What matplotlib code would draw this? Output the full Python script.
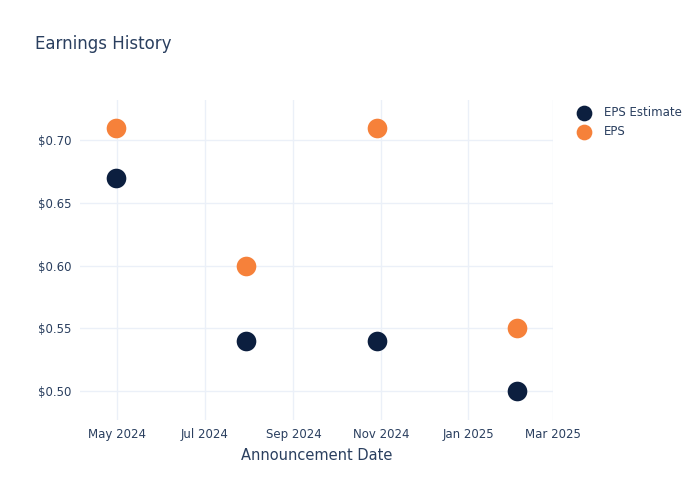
import matplotlib
matplotlib.use("Agg")
import matplotlib.pyplot as plt
import numpy as np
from datetime import datetime

# Earnings data
dates = ["2024-04-30", "2024-07-30", "2024-10-29", "2025-02-04"]
eps_estimate = [0.67, 0.54, 0.54, 0.50]
eps_actual = [0.71, 0.60, 0.71, 0.55]
tick_dates = ["2024-05-01", "2024-07-01", "2024-09-01", "2024-11-01", "2025-01-01", "2025-03-01"]
tick_labels = ["May 2024", "Jul 2024", "Sep 2024", "Nov 2024", "Jan 2025", "Mar 2025"]
y_ticks = [0.50, 0.55, 0.60, 0.65, 0.70]

text_color = "#2a3f5f"
grid_color = "#ebf0f8"
navy = "#0c1f3f"
orange = "#f6813a"

x = [datetime.strptime(d, "%Y-%m-%d") for d in dates]
xt = [datetime.strptime(d, "%Y-%m-%d") for d in tick_dates]

fig = plt.figure(figsize=(7, 5), dpi=100)
ax = fig.add_axes([0.114, 0.16, 0.676, 0.64])

ax.scatter(x, eps_estimate, s=200, color=navy, label="EPS Estimate", zorder=3, linewidths=0)
ax.scatter(x, eps_actual, s=200, color=orange, label="EPS", zorder=3, linewidths=0)

ax.set_xlim(datetime(2024, 4, 5), datetime(2025, 2, 28))
ax.set_ylim(0.477, 0.732)

ax.set_xticks(xt)
ax.set_xticklabels(tick_labels)
ax.set_yticks(y_ticks)
ax.set_yticklabels(["$%.2f" % v for v in y_ticks])

ax.grid(True, color=grid_color, linewidth=1)
ax.set_axisbelow(True)
for s in ax.spines.values():
    s.set_visible(False)
ax.tick_params(length=0, colors=text_color, labelsize=8.5, pad=6)

ax.set_xlabel("Announcement Date", color=text_color, fontsize=10.5, labelpad=5)

fig.text(0.05, 0.912, "Earnings History", color=text_color, fontsize=12, va="center")

leg = ax.legend(loc="upper left", bbox_to_anchor=(1.03, 0.997), frameon=False,
                fontsize=8.5, labelcolor=text_color, handletextpad=0.7,
                borderaxespad=0, labelspacing=0.55, markerscale=0.8)

fig.savefig("out.png", dpi=100)
